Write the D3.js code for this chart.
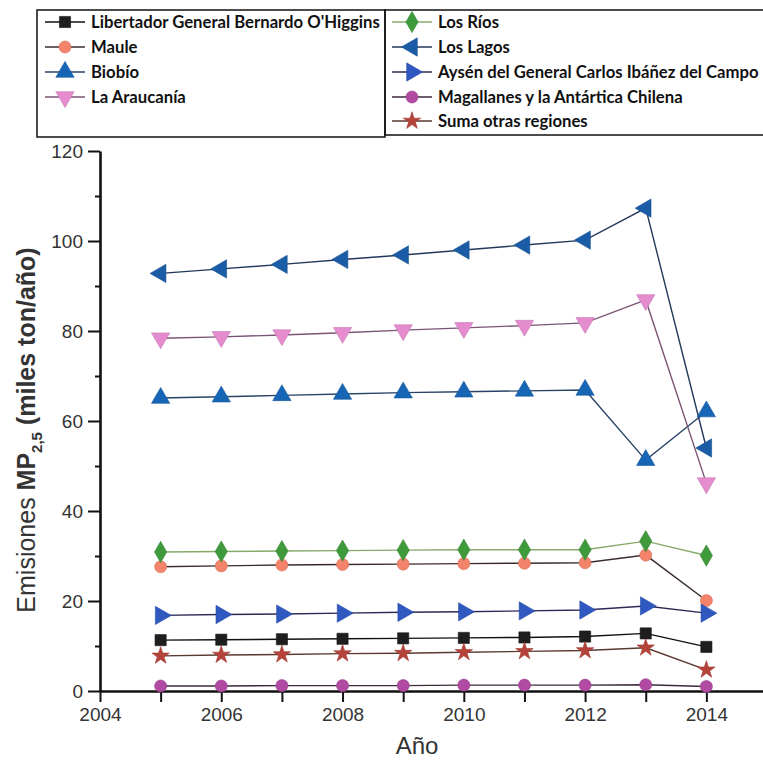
<!DOCTYPE html>
<html>
<head>
<meta charset="utf-8">
<script src="https://cdn.jsdelivr.net/npm/d3@7"></script>
<style>
  body { margin: 0; background: #fff; }
  svg { display: block; }
</style>
</head>
<body>
<script>
const years = [2005, 2006, 2007, 2008, 2009, 2010, 2011, 2012, 2013, 2014];

const seriesNames = [
    "Libertador General Bernardo O'Higgins", "Maule", "Biobío", "La Araucanía",
    "Los Ríos", "Los Lagos", "Aysén del General Carlos Ibáñez del Campo",
    "Magallanes y la Antártica Chilena", "Suma otras regiones"
];

const ohiggins   = [11.3, 11.4, 11.5, 11.6, 11.7, 11.8, 11.9, 12.1, 12.8, 9.8];
const maule      = [27.6, 27.8, 28.0, 28.1, 28.2, 28.3, 28.4, 28.5, 30.2, 20.1];
const biobio     = [65.1, 65.4, 65.7, 66.0, 66.3, 66.5, 66.7, 66.9, 51.3, 62.1];
const araucania  = [78.4, 78.7, 79.1, 79.6, 80.2, 80.7, 81.2, 81.8, 86.9, 46.2];
const losRios    = [30.9, 31.0, 31.1, 31.2, 31.3, 31.4, 31.4, 31.4, 33.3, 30.1];
const losLagos   = [92.8, 93.8, 94.8, 95.9, 96.9, 98.0, 99.1, 100.2, 107.3, 54.0];
const aysen      = [16.8, 17.0, 17.1, 17.3, 17.5, 17.6, 17.8, 18.0, 18.9, 17.3];
const magallanes = [1.1, 1.1, 1.2, 1.2, 1.2, 1.3, 1.3, 1.3, 1.4, 1.0];
const otras      = [7.8, 8.0, 8.1, 8.3, 8.4, 8.6, 8.8, 9.0, 9.6, 4.7];

const yMajorTicks = [0, 20, 40, 60, 80, 100, 120];
const yMinorTicks = [10, 30, 50, 70, 90, 110];
const xMajorTicks = [2004, 2006, 2008, 2010, 2012, 2014];
const xMinorTicks = [2005, 2007, 2009, 2011, 2013];

// marker look per series: symbol, rotation, fill, line colour, size
const styles = [
    { sym: d3.symbolSquare,   rot: 0,   fill: "#1e1e1e", line: "#111111", size: 125 },
    { sym: d3.symbolCircle,   rot: 0,   fill: "#f4836b", line: "#3a2c2c", size: 115 },
    { sym: d3.symbolTriangle, rot: 0,   fill: "#1766b5", line: "#2a4468", size: 145 },
    { sym: d3.symbolTriangle, rot: 180, fill: "#e58ccf", line: "#7a5474", size: 145 },
    { sym: d3.symbolDiamond,  rot: 0,   fill: "#3e9a3a", line: "#86aa6a", size: 130 },
    { sym: d3.symbolTriangle, rot: -90, fill: "#1a5ca6", line: "#22395c", size: 145 },
    { sym: d3.symbolTriangle, rot: 90,  fill: "#2f58c0", line: "#2a2a55", size: 145 },
    { sym: d3.symbolCircle,   rot: 0,   fill: "#b04aa2", line: "#3c2a3c", size: 115 },
    { sym: d3.symbolStar,     rot: 0,   fill: "#b5433a", line: "#5a3a30", size: 95 }
];

const allValues = [ohiggins, maule, biobio, araucania, losRios, losLagos, aysen, magallanes, otras];

const width = 763, height = 760;
const svg = d3.select("body").append("svg")
    .attr("width", width)
    .attr("height", height);

svg.append("rect").attr("width", width).attr("height", height).attr("fill", "#fff");

const x = d3.scaleLinear().domain([2004, 2015]).range([100, 767]);
const y = d3.scaleLinear().domain([0, 120]).range([691, 151]);

// axes
const axisFont = "'Liberation Sans', Arial, sans-serif";

svg.append("g")
    .attr("transform", `translate(${x(2004)},0)`)
    .call(d3.axisLeft(y).tickValues(yMajorTicks).tickSize(12).tickSizeOuter(0).tickPadding(5));
svg.append("g")
    .attr("transform", `translate(${x(2004)},0)`)
    .call(d3.axisLeft(y).tickValues(yMinorTicks).tickSize(5).tickFormat(""))
    .select(".domain").remove();

svg.append("g")
    .attr("transform", `translate(0,${y(0)})`)
    .call(d3.axisBottom(x).tickValues(xMajorTicks).tickFormat(d3.format("d")).tickSize(11).tickSizeOuter(0).tickPadding(6));
svg.append("g")
    .attr("transform", `translate(0,${y(0)})`)
    .call(d3.axisBottom(x).tickValues(xMinorTicks).tickSize(11).tickFormat(""))
    .select(".domain").remove();

svg.selectAll(".domain").attr("stroke", "#111").attr("stroke-width", 2.6);
svg.selectAll(".tick line").attr("stroke", "#111").attr("stroke-width", 2);
svg.selectAll(".tick text")
    .attr("font-family", axisFont)
    .attr("font-size", 19)
    .attr("fill", "#333");

// axis titles
const yTitle = svg.append("text")
    .attr("transform", "translate(35,430) rotate(-90)")
    .attr("text-anchor", "middle")
    .attr("font-family", axisFont)
    .attr("font-size", 25)
    .attr("fill", "#333");
yTitle.append("tspan").text("Emisiones ");
yTitle.append("tspan").attr("font-weight", "bold").text("MP");
yTitle.append("tspan").attr("font-weight", "bold").attr("font-size", 15).attr("dy", 7).text("2,5");
yTitle.append("tspan").attr("font-weight", "bold").attr("dy", -7).text(" (miles ton/año)");

svg.append("text")
    .attr("x", 417)
    .attr("y", 754)
    .attr("text-anchor", "middle")
    .attr("font-family", axisFont)
    .attr("font-size", 24)
    .attr("fill", "#333")
    .text("Año");

// series
const line = d3.line()
    .x((d, i) => x(years[i]))
    .y(d => y(d));

allValues.forEach((vals, k) => {
    const st = styles[k];
    svg.append("path")
        .datum(vals)
        .attr("d", line)
        .attr("fill", "none")
        .attr("stroke", st.line)
        .attr("stroke-width", 1.4);
});

allValues.forEach((vals, k) => {
    const st = styles[k];
    svg.selectAll(null)
        .data(vals)
        .enter().append("path")
        .attr("d", d3.symbol().type(st.sym).size(st.size))
        .attr("transform", (d, i) => `translate(${x(years[i])},${y(d)}) rotate(${st.rot})`)
        .attr("fill", st.fill)
        .attr("stroke", d3.color(st.fill).darker(0.4))
        .attr("stroke-width", 0.6);
});

// legend boxes
svg.append("rect")
    .attr("x", 37).attr("y", 10).attr("width", 348).attr("height", 127)
    .attr("fill", "none").attr("stroke", "#111").attr("stroke-width", 1.5);
svg.append("rect")
    .attr("x", 385).attr("y", 10).attr("width", 390).attr("height", 125)
    .attr("fill", "none").attr("stroke", "#111").attr("stroke-width", 1.5);

const legendPos = [
    [45, 22], [45, 47], [45, 72], [45, 97],
    [392, 22], [392, 47], [392, 72], [392, 97], [392, 121]
];

seriesNames.forEach((name, k) => {
    const st = styles[k];
    const lx = legendPos[k][0], ly = legendPos[k][1];
    const g = svg.append("g").attr("transform", `translate(${lx},${ly})`);
    g.append("line")
        .attr("x1", 0).attr("x2", 40)
        .attr("stroke", st.line).attr("stroke-width", 1.4);
    g.append("path")
        .attr("d", d3.symbol().type(st.sym).size(st.size))
        .attr("transform", `translate(20,0) rotate(${st.rot})`)
        .attr("fill", st.fill)
        .attr("stroke", d3.color(st.fill).darker(0.4))
        .attr("stroke-width", 0.6);
    g.append("text")
        .attr("x", 46)
        .attr("y", 6)
        .attr("font-family", "Lato, 'Open Sans', sans-serif")
        .attr("font-weight", "bold")
        .attr("font-size", 16.7)
        .attr("fill", "#111")
        .text(name);
});
</script>
</body>
</html>
